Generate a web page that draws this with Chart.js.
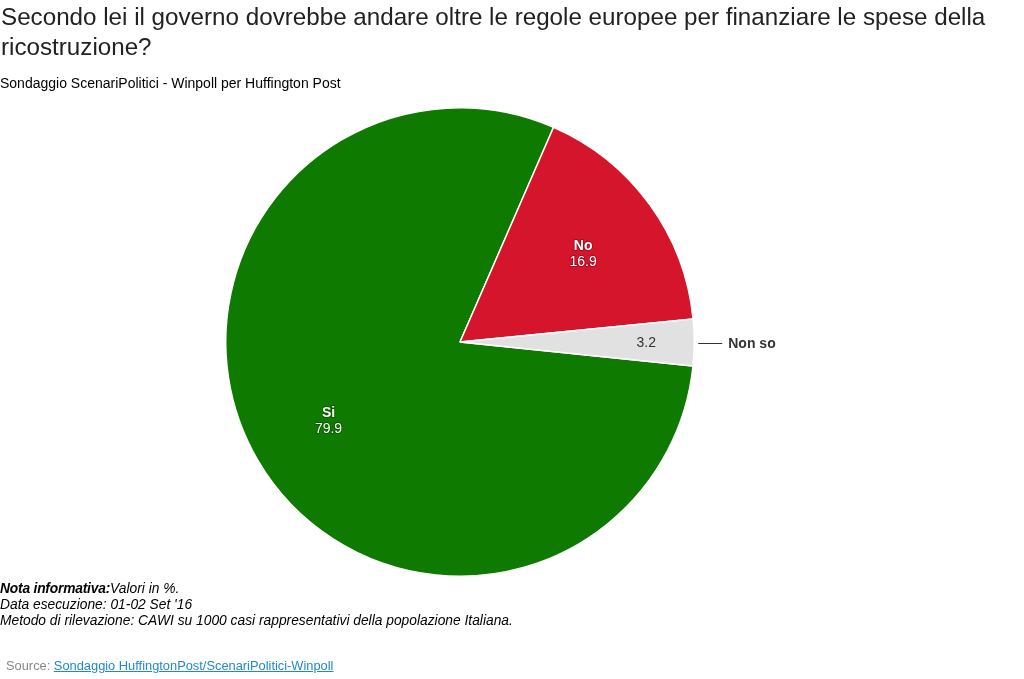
<!DOCTYPE html>
<html>
<head>
<meta charset="utf-8">
<title>Sondaggio</title>
<script src="https://cdn.jsdelivr.net/npm/chart.js@4"></script>
<style>
body { margin: 0; background: #fff; font-family: "Liberation Sans", Arial, sans-serif; }
#wrap { position: relative; width: 1024px; height: 679px; overflow: hidden; }
#chart { position: absolute; left: 0; top: 0; }
#title { position: absolute; left: 1px; top: 2px; width: 1015px; font-size: 24.2px; line-height: 30px; color: #222; }
#subtitle { position: absolute; left: 0; top: 75px; font-size: 14px; line-height: 16px; color: #000; }
#note { position: absolute; left: 0; top: 581px; font-size: 13.8px; line-height: 16px; font-style: italic; color: #000; }
#note b { letter-spacing: -0.2px; }
#source { position: absolute; left: 6px; top: 658px; font-size: 12.85px; line-height: 16px; color: #888; }
#source a { color: #1e88d2; }
</style>
</head>
<body>
<div id="wrap">
  <canvas id="chart" width="1024" height="679"></canvas>
  <div id="title">Secondo lei il governo dovrebbe andare oltre le regole europee per finanziare le spese della ricostruzione?</div>
  <div id="subtitle">Sondaggio ScenariPolitici - Winpoll per Huffington Post</div>
  <div id="note"><b>Nota informativa:</b>Valori in %.<br>Data esecuzione: 01-02 Set '16<br>Metodo di rilevazione: CAWI su 1000 casi rappresentativi della popolazione Italiana.</div>
  <div id="source">Source: <a href="#">Sondaggio HuffingtonPost/ScenariPolitici-Winpoll</a></div>
</div>
<script>
var categories = ['Si', 'No', 'Non so'];
var values = [79.9, 16.9, 3.2];
var colors = ['#0f7a00', '#d5152c', '#e1e1e1'];

// labels sit on the slices, the small one also gets its name outside with a line
var sliceLabels = {
    id: 'sliceLabels',
    afterDatasetsDraw: function (chart) {
        var ctx = chart.ctx;
        var arcs = chart.getDatasetMeta(0).data;
        ctx.save();
        ctx.textAlign = 'center';
        ctx.textBaseline = 'middle';
        arcs.forEach(function (arc, i) {
            var mid = (arc.startAngle + arc.endAngle) / 2;
            var cos = Math.cos(mid), sin = Math.sin(mid);
            if (i == 2) {
                var r = arc.outerRadius;
                ctx.fillStyle = '#333';
                ctx.font = '14px "Liberation Sans"';
                ctx.fillText(values[i].toFixed(1), arc.x + r * 0.795 * cos, arc.y + r * 0.795 * sin + 1);
                ctx.strokeStyle = '#333';
                ctx.lineWidth = 1;
                ctx.beginPath();
                ctx.moveTo(arc.x + r + 4, arc.y + 1.5);
                ctx.lineTo(arc.x + r + 28, arc.y + 1.5);
                ctx.stroke();
                ctx.textAlign = 'left';
                ctx.font = 'bold 14px "Liberation Sans"';
                ctx.fillText(categories[i], arc.x + r + 34, arc.y + 2);
                ctx.textAlign = 'center';
            } else {
                var x = arc.x + arc.outerRadius * 0.65 * cos;
                var y = arc.y + arc.outerRadius * 0.65 * sin;
                ctx.lineWidth = 2;
                ctx.lineJoin = 'round';
                ctx.strokeStyle = 'rgba(0,0,0,0.25)';
                ctx.fillStyle = '#fff';
                ctx.font = 'bold 14px "Liberation Sans"';
                ctx.strokeText(categories[i], x, y - 6);
                ctx.fillText(categories[i], x, y - 6);
                ctx.font = '14px "Liberation Sans"';
                ctx.strokeText(values[i].toFixed(1), x, y + 10);
                ctx.fillText(values[i].toFixed(1), x, y + 10);
            }
        });
        ctx.restore();
    }
};

var pieChart = new Chart(document.getElementById('chart').getContext('2d'), {
    type: 'pie',
    data: {
        labels: categories,
        datasets: [{
            data: values,
            backgroundColor: colors,
            borderColor: '#fff',
            borderWidth: 1.5
        }]
    },
    options: {
        responsive: false,
        animation: false,
        rotation: 95.9,
        layout: { padding: { left: 225, right: 329, top: 107, bottom: 102 } },
        plugins: {
            legend: { display: false },
            tooltip: { enabled: false }
        }
    },
    plugins: [sliceLabels]
});
</script>
</body>
</html>
